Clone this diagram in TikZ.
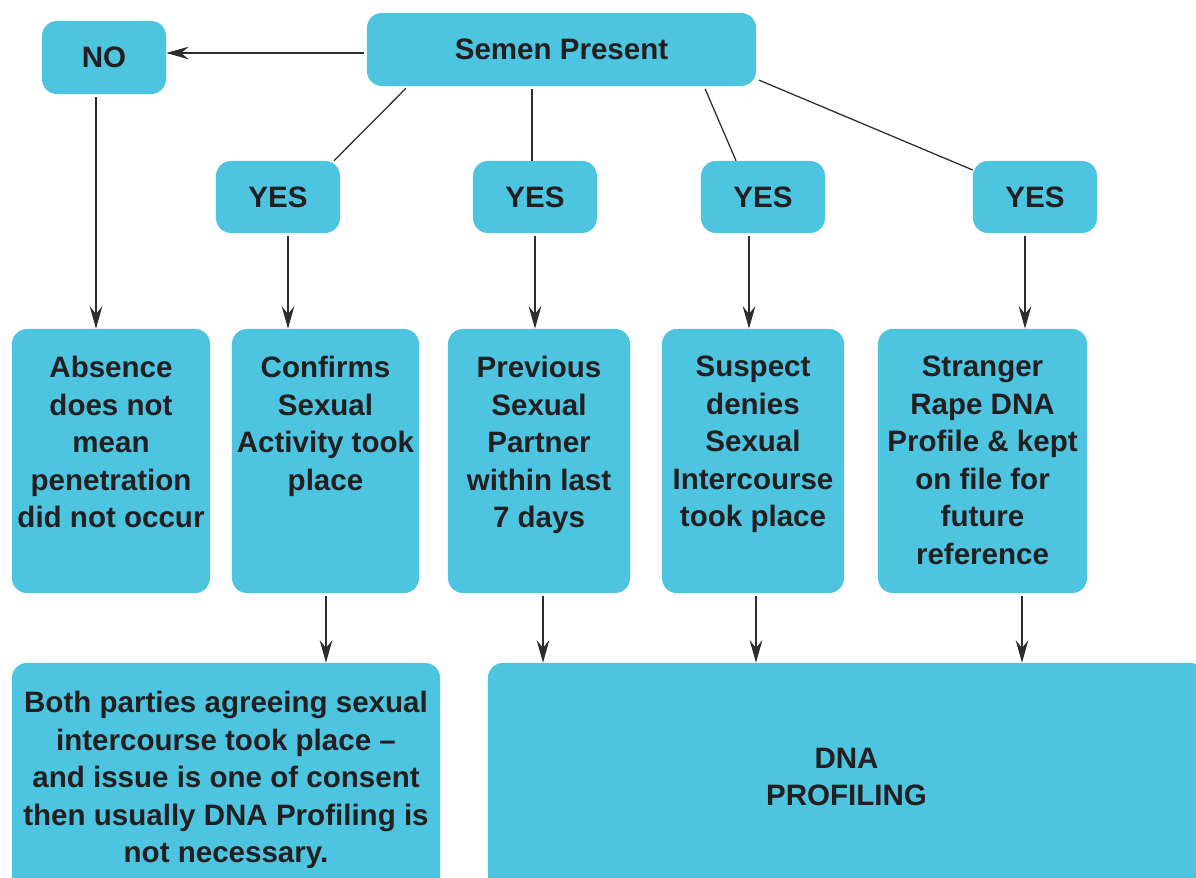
\documentclass[tikz,border=0pt]{standalone}
\usepackage{fontspec}
\setmainfont{Liberation Sans}
\usetikzlibrary{arrows.meta}
\definecolor{boxblue}{RGB}{77,197,224}
\definecolor{ink}{RGB}{35,31,32}
\definecolor{wire}{RGB}{45,45,45}
\tikzset{
  box/.style={fill=boxblue, rounded corners=0.375cm, inner sep=0pt, align=center,
    text=ink, font=\fontsize{21}{26.7}\selectfont\bfseries},
  smallbox/.style={box, minimum width=3.1cm, minimum height=1.8cm},
  tallbox/.style={box, minimum height=6.6cm},
  toptext/.style={anchor=north, yshift=-0.68cm, inner sep=0pt, align=center,
    text=ink, font=\fontsize{21}{26.7}\selectfont\bfseries},
  link/.style={draw=wire, line width=0.9pt, shorten <=2pt},
  flow/.style={link, -{Stealth[length=16pt, width=9pt, inset=5.5pt]}},
}
\begin{document}
\begin{tikzpicture}[x=0.025cm, y=-0.025cm]
  \useasboundingbox (0,0) rectangle (1196,878);
  \clip (0,0) rectangle (1196,878);

  \node[box, minimum width=9.725cm, minimum height=1.825cm] (semen) at (561.5,49.5) {Semen Present};
  \node[smallbox, minimum height=1.825cm] (no) at (104,57.5) {NO};
  \node[smallbox] (yes1) at (278,197) {YES};
  \node[smallbox] (yes2) at (535,197) {YES};
  \node[smallbox] (yes3) at (763,197) {YES};
  \node[smallbox] (yes4) at (1035,197) {YES};

  \node[tallbox, minimum width=4.95cm] (absence) at (111,461) {};
  \node[toptext] (absence-t) at (absence.north) {Absence\\does not\\mean\\penetration\\did not occur};
  \node[tallbox, minimum width=4.675cm] (confirms) at (325.5,461) {};
  \node[toptext] (confirms-t) at (confirms.north) {Confirms\\Sexual\\Activity took\\place};
  \node[tallbox, minimum width=4.55cm] (previous) at (539,461) {};
  \node[toptext] (previous-t) at (previous.north) {Previous\\Sexual\\Partner\\within last\\7 days};
  \node[tallbox, minimum width=4.55cm] (suspect) at (753,461) {};
  \node[toptext] (suspect-t) at (suspect.north) {Suspect\\denies\\Sexual\\Intercourse\\took place};
  \node[tallbox, minimum width=5.225cm] (stranger) at (982.5,461) {};
  \node[toptext] (stranger-t) at (stranger.north) {Stranger\\Rape DNA\\Profile \& kept\\on file for\\future\\reference};

  \node[box, minimum width=10.7cm, minimum height=5.85cm] (agree) at (226,780)
    {Both parties agreeing sexual\\intercourse took place –\\and issue is one of consent\\then usually DNA Profiling is\\not necessary.};
  \node[box, minimum width=17.925cm, minimum height=5.7cm] (dna) at (846.5,777) {DNA\\PROFILING};

  \draw[flow] (semen.west |- 0,53) -- (no.east |- 0,53);
  \draw[link] (semen.south -| 408,0) -- (yes1.north -| 334,0);
  \draw[link] (semen.south -| 532,0) -- (yes2.north -| 532,0);
  \draw[link] (semen.south -| 704,0) -- (yes3.north -| 736,0);
  \draw[link] (semen.east |- 0,79) -- (yes4.west |- 0,170);

  \draw[flow] (no.south -| 96,0) -- (absence.north -| 96,0);
  \draw[flow] (yes1.south -| 288,0) -- (confirms.north -| 288,0);
  \draw[flow] (yes2.south -| 535,0) -- (previous.north -| 535,0);
  \draw[flow] (yes3.south -| 749,0) -- (suspect.north -| 749,0);
  \draw[flow] (yes4.south -| 1025,0) -- (stranger.north -| 1025,0);

  \draw[flow] (confirms.south -| 326,0) -- (agree.north -| 326,0);
  \draw[flow] (previous.south -| 543,0) -- (dna.north -| 543,0);
  \draw[flow] (suspect.south -| 756,0) -- (dna.north -| 756,0);
  \draw[flow] (stranger.south -| 1022,0) -- (dna.north -| 1022,0);
\end{tikzpicture}
\end{document}
